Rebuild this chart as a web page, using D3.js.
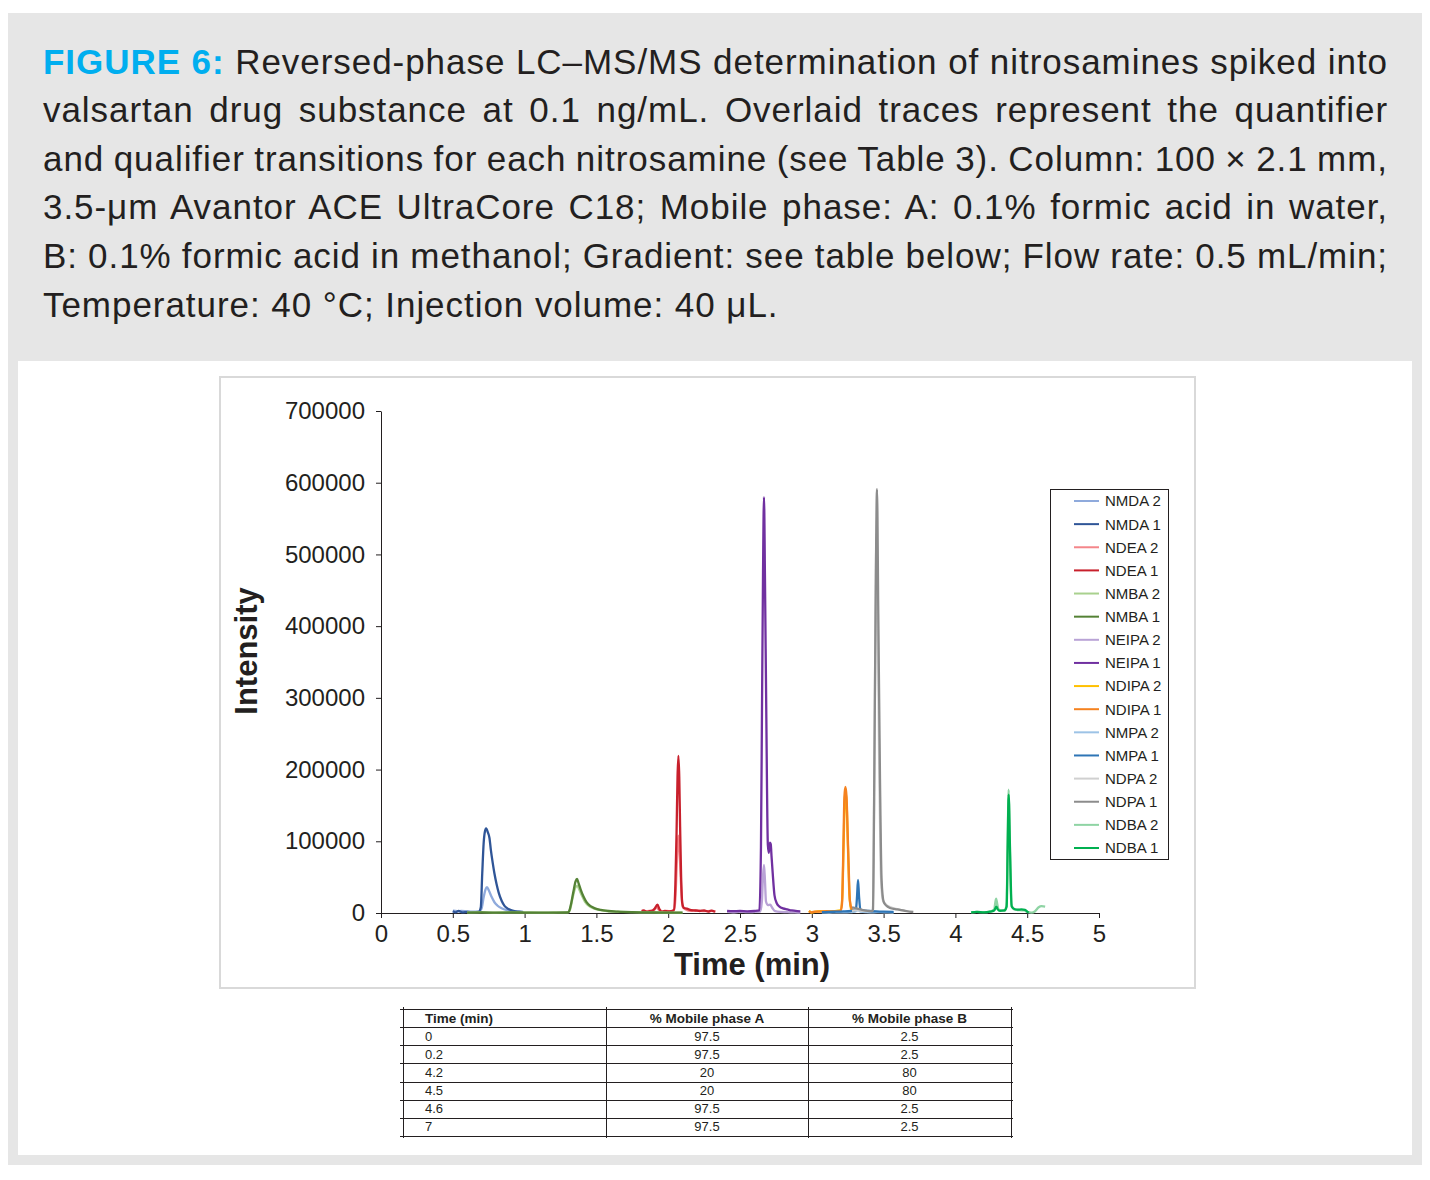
<!DOCTYPE html>
<html>
<head>
<meta charset="utf-8">
<script src="https://cdn.jsdelivr.net/npm/d3@7"></script>
<style>
  body { margin: 0; background: #fff; }
  svg { display: block; }
  text { font-family: "Liberation Sans", Arial, Helvetica, sans-serif; }
</style>
</head>
<body>
<div id="chart"></div>
<script>
// caption text, one entry per printed line
var captionLines = [
    'Reversed-phase LC\u2013MS/MS determination of nitrosamines spiked into',
    'valsartan drug substance at 0.1 ng/mL. Overlaid traces represent the quantifier',
    'and qualifier transitions for each nitrosamine (see Table 3). Column: 100 \u00d7 2.1 mm,',
    '3.5-\u03bcm Avantor ACE UltraCore C18; Mobile phase: A: 0.1% formic acid in water,',
    'B: 0.1% formic acid in methanol; Gradient: see table below; Flow rate: 0.5 mL/min;',
    'Temperature: 40 \u00b0C; Injection volume: 40 \u03bcL.'
];

var xTicks = [0, 0.5, 1, 1.5, 2, 2.5, 3, 3.5, 4, 4.5, 5];
var yTicks = [0, 100000, 200000, 300000, 400000, 500000, 600000, 700000];

// traces: [time (min), intensity]
var nmda2 = [[0.50,3200],[0.53,2500],[0.56,3000],[0.60,2200],[0.64,1800],[0.68,2000],[0.70,6000],[0.715,22000],[0.728,33000],[0.738,36000],[0.752,31000],[0.77,22500],[0.79,15000],[0.81,10500],[0.84,6500],[0.88,3800],[0.92,2500],[0.96,1800],[0.99,1500]];
var nmda1 = [[0.50,2500],[0.52,1000],[0.54,2800],[0.57,800],[0.60,1500],[0.64,1200],[0.68,1500],[0.695,8000],[0.705,55000],[0.715,98000],[0.724,114000],[0.732,118000],[0.745,112000],[0.755,105000],[0.765,88000],[0.778,70000],[0.79,55000],[0.805,40000],[0.82,28000],[0.84,17000],[0.86,10000],[0.88,6500],[0.9,4500],[0.93,2500],[0.96,1800],[0.99,1200]];
var ndea2 = [[1.815,3500],[1.84,2500],[1.87,3000],[1.9,4000],[1.92,8000],[1.935,4500],[1.96,2500],[1.99,2800],[2.02,2500],[2.04,3500],[2.05,20000],[2.06,70000],[2.07,108000],[2.077,95000],[2.087,50000],[2.1,9000],[2.12,5000],[2.15,3000],[2.2,3500],[2.25,2500],[2.3,3000],[2.33,2000]];
var ndea1 = [[1.815,2800],[1.83,3500],[1.85,1500],[1.87,2500],[1.89,3000],[1.905,6000],[1.925,11500],[1.94,5000],[1.955,1500],[1.975,2800],[2.0,2200],[2.02,2500],[2.04,4500],[2.05,40000],[2.058,110000],[2.065,190000],[2.071,219000],[2.077,190000],[2.083,120000],[2.09,50000],[2.098,14000],[2.11,7000],[2.13,6000],[2.16,4000],[2.19,3500],[2.22,2800],[2.25,3500],[2.28,2000],[2.3,3200],[2.326,1800]];
var nmba2 = [[0.60,800],[0.7,1200],[0.8,600],[0.9,1000],[1.0,800],[1.1,500],[1.2,700],[1.3,900],[1.315,4000],[1.335,22000],[1.355,36000],[1.368,38000],[1.38,33000],[1.40,24000],[1.42,16000],[1.45,9500],[1.48,6500],[1.52,4200],[1.57,2800],[1.65,1800],[1.75,1200],[1.85,900],[1.95,700],[2.05,600],[2.1,500]];
var nmba1 = [[0.60,500],[0.7,900],[0.8,400],[0.9,800],[1.0,600],[1.1,400],[1.2,500],[1.3,700],[1.31,2500],[1.325,14000],[1.34,30000],[1.355,44000],[1.365,47500],[1.375,42000],[1.39,33000],[1.41,23000],[1.43,15500],[1.46,9500],[1.49,6500],[1.53,4300],[1.58,2800],[1.65,1800],[1.75,1100],[1.85,800],[1.95,600],[2.05,500],[2.1,400]];
var neipa2 = [[2.41,1500],[2.45,1000],[2.5,1800],[2.55,1200],[2.6,1500],[2.64,1800],[2.652,15000],[2.66,50000],[2.667,67000],[2.674,45000],[2.681,16000],[2.695,11000],[2.71,11500],[2.725,7000],[2.745,2500],[2.78,1500],[2.83,1200],[2.88,800],[2.92,600]];
var neipa1 = [[2.41,3000],[2.45,2500],[2.5,2800],[2.55,2400],[2.6,2800],[2.635,3500],[2.646,92000],[2.653,280000],[2.66,465000],[2.667,580000],[2.674,465000],[2.683,280000],[2.694,95000],[2.701,84000],[2.708,98000],[2.714,96000],[2.72,78000],[2.728,55000],[2.74,25000],[2.755,14000],[2.775,9000],[2.8,6500],[2.83,5000],[2.86,3500],[2.9,2500],[2.92,2200]];
var ndipa2 = [[2.98,3000],[3.0,500],[3.02,1500],[3.06,2500],[3.1,2000],[3.15,2500],[3.2,3500],[3.212,20000],[3.222,100000],[3.23,158000],[3.236,168000],[3.243,150000],[3.252,90000],[3.262,25000],[3.275,5000],[3.3,2500]];
var ndipa1 = [[2.98,2500],[3.0,1000],[3.02,2000],[3.06,2000],[3.1,2500],[3.15,2200],[3.2,3000],[3.21,12000],[3.22,92000],[3.227,162000],[3.234,176000],[3.242,162000],[3.25,110000],[3.256,70000],[3.265,18000],[3.28,5000],[3.3,2800]];
var nmpa2 = [[3.07,800],[3.12,600],[3.17,1000],[3.22,800],[3.27,1200],[3.3,1800],[3.322,4000],[3.34,2000],[3.38,1200],[3.43,900],[3.48,1300],[3.53,800],[3.57,600]];
var nmpa1 = [[3.07,1200],[3.12,1500],[3.17,1800],[3.22,2200],[3.27,2800],[3.3,3500],[3.308,6000],[3.315,23000],[3.322,46000],[3.329,23000],[3.338,5000],[3.36,3500],[3.4,2800],[3.45,2200],[3.5,1800],[3.57,1500]];
var ndpa2 = [[3.28,3000],[3.32,4000],[3.36,3000],[3.4,2500],[3.425,4000],[3.434,150000],[3.443,400000],[3.451,530000],[3.46,400000],[3.47,190000],[3.48,60000],[3.495,18000],[3.52,11000],[3.55,8000],[3.6,5000],[3.65,3000]];
var ndpa1 = [[3.28,8000],[3.31,6500],[3.35,4500],[3.39,3000],[3.42,2500],[3.426,5000],[3.435,186000],[3.444,418000],[3.454,591000],[3.463,418000],[3.475,186000],[3.486,46000],[3.5,16000],[3.52,10000],[3.545,7000],[3.58,5500],[3.614,4500],[3.66,2500],[3.707,1400]];
var ndba2 = [[4.11,1000],[4.15,1500],[4.2,1200],[4.24,2000],[4.27,5000],[4.283,20000],[4.292,12000],[4.3,5000],[4.32,3500],[4.345,3000],[4.357,15000],[4.364,100000],[4.371,172000],[4.378,100000],[4.39,12000],[4.41,5000],[4.45,4000],[4.48,3500],[4.5,1500],[4.53,500],[4.555,2500],[4.58,8000],[4.6,9500],[4.625,9000]];
var ndba1 = [[4.11,800],[4.15,1500],[4.2,1000],[4.24,1800],[4.27,3500],[4.285,9000],[4.295,5000],[4.31,3000],[4.34,3500],[4.357,9000],[4.364,92000],[4.371,165000],[4.38,92000],[4.392,9000],[4.41,5500],[4.43,4600],[4.46,5000],[4.485,4500],[4.5,2000],[4.51,500]];

var seriesNames = ['NMDA 2','NMDA 1','NDEA 2','NDEA 1','NMBA 2','NMBA 1','NEIPA 2','NEIPA 1','NDIPA 2','NDIPA 1','NMPA 2','NMPA 1','NDPA 2','NDPA 1','NDBA 2','NDBA 1'];
var seriesData = [nmda2, nmda1, ndea2, ndea1, nmba2, nmba1, neipa2, neipa1, ndipa2, ndipa1, nmpa2, nmpa1, ndpa2, ndpa1, ndba2, ndba1];
var seriesColors = ['#8faadc','#2f5597','#f4868a','#c8202c','#a9d18e','#548235','#b9a3d6','#7030a0','#ffc000','#f5821f','#9dc3e6','#2e75b6','#d0d0d0','#8c8c8c','#8fd4a4','#00b050'];

// gradient table
var tableHeaders = ['Time (min)', '% Mobile phase A', '% Mobile phase B'];
var gradTime = ['0', '0.2', '4.2', '4.5', '4.6', '7'];
var gradA = ['97.5', '97.5', '20', '20', '97.5', '97.5'];
var gradB = ['2.5', '2.5', '80', '80', '2.5', '2.5'];

var W = 1430, H = 1180;
var ink = '#231f20';

var svg = d3.select('#chart').append('svg')
    .attr('width', W)
    .attr('height', H);

// panels
svg.append('rect').attr('x', 8).attr('y', 13).attr('width', 1414).attr('height', 1152).attr('fill', '#e6e6e6');
svg.append('rect').attr('x', 18).attr('y', 361).attr('width', 1394).attr('height', 794).attr('fill', '#ffffff');

// caption
var capLeft = 43, capRight = 1388;
captionLines.forEach(function(line, i) {
    var t = svg.append('text')
        .attr('x', capLeft)
        .attr('y', 73.5 + i * 48.6)
        .attr('font-size', 35)
        .style('letter-spacing', '0.95px')
        .attr('fill', ink);
    var full = line;
    if (i === 0) {
        t.append('tspan').attr('font-weight', 'bold').attr('fill', '#00aeef').text('FIGURE 6: ');
        full = 'FIGURE 6: ' + line;
    }
    t.append('tspan').text(line);
    if (i < captionLines.length - 1) {
        var w = t.node().getComputedTextLength();
        var spaces = (full.match(/ /g) || []).length;
        t.style('word-spacing', ((capRight - capLeft - w) / spaces) + 'px');
    }
});

// chart frame
svg.append('rect')
    .attr('x', 220).attr('y', 377)
    .attr('width', 975).attr('height', 611)
    .attr('fill', '#fff')
    .attr('stroke', '#d9d9d9')
    .attr('stroke-width', 2);

var x = d3.scaleLinear().domain([0, 5]).range([381, 1099]);
var y = d3.scaleLinear().domain([0, 700000]).range([913, 411]);

var xAxis = svg.append('g')
    .attr('transform', 'translate(0,' + y(0) + ')')
    .call(d3.axisBottom(x).tickValues(xTicks).tickFormat(d3.format('')).tickSize(5).tickSizeOuter(0).tickPadding(7));
var yAxis = svg.append('g')
    .attr('transform', 'translate(' + x(0) + ',0)')
    .call(d3.axisLeft(y).tickValues(yTicks).tickFormat(d3.format('d')).tickSize(5).tickSizeOuter(0).tickPadding(11));

[xAxis, yAxis].forEach(function(a) {
    a.selectAll('text').attr('font-size', 24).attr('fill', ink).attr('font-family', '"Liberation Sans", Arial, sans-serif');
    a.selectAll('line').attr('stroke', ink);
    a.select('.domain').attr('stroke', ink);
});

svg.append('text')
    .attr('x', 752).attr('y', 975)
    .attr('text-anchor', 'middle')
    .attr('font-size', 31)
    .attr('font-weight', 'bold')
    .attr('fill', ink)
    .text('Time (min)');

svg.append('text')
    .attr('transform', 'translate(257,651) rotate(-90)')
    .attr('text-anchor', 'middle')
    .attr('font-size', 31)
    .attr('font-weight', 'bold')
    .attr('fill', ink)
    .text('Intensity');

// traces
var line = d3.line()
    .x(function(d) { return x(d[0]); })
    .y(function(d) { return y(d[1]); })
    .curve(d3.curveMonotoneX);

svg.append('g').selectAll('path')
    .data(seriesData)
    .enter()
    .append('path')
    .attr('d', line)
    .attr('fill', 'none')
    .attr('stroke', function(d, i) { return seriesColors[i]; })
    .attr('stroke-width', 2.3)
    .attr('stroke-linejoin', 'round');

// legend
var lg = svg.append('g');
lg.append('rect')
    .attr('x', 1050.5).attr('y', 489.5)
    .attr('width', 118).attr('height', 370)
    .attr('fill', '#fff')
    .attr('stroke', ink)
    .attr('stroke-width', 1);
var ly = d3.scalePoint().domain(seriesNames).range([501, 848]);
var items = lg.selectAll('g.item')
    .data(seriesNames)
    .enter()
    .append('g')
    .attr('transform', function(d) { return 'translate(0,' + ly(d) + ')'; });
items.append('line')
    .attr('x1', 1074).attr('x2', 1099)
    .attr('stroke', function(d, i) { return seriesColors[i]; })
    .attr('stroke-width', 2);
items.append('text')
    .attr('x', 1105).attr('dy', '0.36em')
    .attr('font-size', 15)
    .attr('fill', ink)
    .text(function(d) { return d; });

// gradient table
var colX = [403, 606, 808, 1011];
var rowY = d3.scaleLinear().domain([0, 7]).range([1009, 1136]);
var tb = svg.append('g');
d3.range(8).forEach(function(r) {
    tb.append('line')
        .attr('x1', 400).attr('x2', 1013)
        .attr('y1', Math.round(rowY(r)) + 0.5).attr('y2', Math.round(rowY(r)) + 0.5)
        .attr('stroke', ink).attr('stroke-width', 1);
});
colX.forEach(function(cx) {
    tb.append('line')
        .attr('x1', cx + 0.5).attr('x2', cx + 0.5)
        .attr('y1', 1007).attr('y2', 1138)
        .attr('stroke', ink).attr('stroke-width', 1);
});
var cellX = [425, (colX[1] + colX[2]) / 2, (colX[2] + colX[3]) / 2];
var anchors = ['start', 'middle', 'middle'];
tableHeaders.forEach(function(h, c) {
    tb.append('text')
        .attr('x', cellX[c]).attr('y', rowY(0) + 14)
        .attr('text-anchor', anchors[c])
        .attr('font-size', 13.5).attr('font-weight', 'bold')
        .attr('fill', ink)
        .text(h);
});
[gradTime, gradA, gradB].forEach(function(col, c) {
    col.forEach(function(v, r) {
        tb.append('text')
            .attr('x', cellX[c]).attr('y', rowY(r + 1) + 13.5)
            .attr('text-anchor', anchors[c])
            .attr('font-size', 13)
            .attr('fill', ink)
            .text(v);
    });
});
</script>
</body>
</html>
